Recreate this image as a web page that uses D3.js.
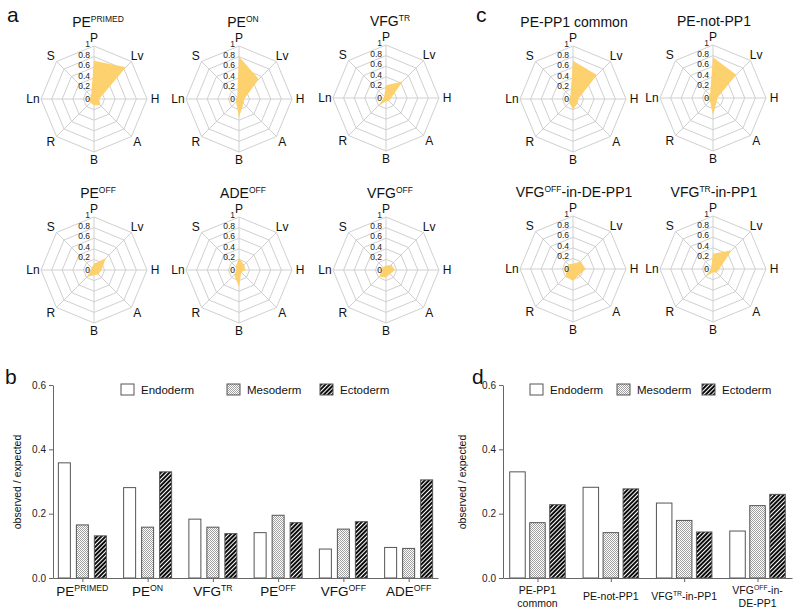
<!DOCTYPE html>
<html><head><meta charset="utf-8">
<script src="https://cdn.jsdelivr.net/npm/d3@7"></script>
<style>body{margin:0;background:#fff}svg{display:block;font-family:"Liberation Sans",Arial,sans-serif}</style>
</head><body><svg id="c" width="800" height="614"></svg>
<script>
// ---------- DATA ----------
const radarAxes = ["P","Lv","H","A","B","R","Ln","S"];
const radarTicks = [0, 0.2, 0.4, 0.6, 0.8, 1];
// panel a radar values (order P, Lv, H, A, B, R, Ln, S)
const pePrimed   = [0.72, 0.85, 0.10, 0.17, 0.12, 0.10, 0.09, 0.08];
const peOn       = [0.80, 0.53, 0.10, 0.12, 0.35, 0.08, 0.06, 0.05];
const vfgTr      = [0.24, 0.44, 0.10, 0.08, 0.06, 0.22, 0.04, 0.05];
const peOff      = [0.12, 0.32, 0.14, 0.12, 0.10, 0.19, 0.06, 0.06];
const adeOff     = [0.22, 0.14, 0.12, 0.06, 0.32, 0.13, 0.05, 0.09];
const vfgOff     = [0.08, 0.14, 0.17, 0.11, 0.14, 0.18, 0.08, 0.08];
// panel c radar values
const pePp1Common   = [0.72, 0.64, 0.10, 0.12, 0.20, 0.10, 0.08, 0.07];
const peNotPp1      = [0.77, 0.62, 0.08, 0.10, 0.32, 0.08, 0.13, 0.08];
const vfgOffInDePp1 = [0.10, 0.20, 0.24, 0.16, 0.22, 0.20, 0.12, 0.12];
const vfgTrInPp1    = [0.29, 0.50, 0.12, 0.10, 0.06, 0.22, 0.04, 0.05];
// radar titles (^{..} = superscript)
const radarTitles = ["PE^{PRIMED}","PE^{ON}","VFG^{TR}","PE^{OFF}","ADE^{OFF}","VFG^{OFF}",
                     "PE-PP1 common","PE-not-PP1","VFG^{OFF}-in-DE-PP1","VFG^{TR}-in-PP1"];

// bar charts
const germLayers = ["Endoderm","Mesoderm","Ectoderm"];
const barTicks = [0.0, 0.2, 0.4, 0.6];
const categoriesB = ["PE^{PRIMED}","PE^{ON}","VFG^{TR}","PE^{OFF}","VFG^{OFF}","ADE^{OFF}"];
const endodermB = [0.358, 0.281, 0.183, 0.141, 0.090, 0.095];
const mesodermB = [0.165, 0.158, 0.158, 0.195, 0.152, 0.092];
const ectodermB = [0.131, 0.330, 0.138, 0.172, 0.175, 0.305];
const categoriesD = ["PE-PP1\ncommon","PE-not-PP1","VFG^{TR}-in-PP1","VFG^{OFF}-in-\nDE-PP1"];
const endodermD = [0.330, 0.282, 0.233, 0.146];
const mesodermD = [0.172, 0.141, 0.179, 0.225];
const ectodermD = [0.228, 0.277, 0.143, 0.260];
const yLabel = "observed / expected";

// ---------- DRAW ----------
const svg = d3.select("#c");
const defs = svg.append("defs");
const dots = defs.append("pattern").attr("id","dots").attr("patternUnits","userSpaceOnUse")
  .attr("width",2).attr("height",2);
dots.append("rect").attr("width",2).attr("height",2).attr("fill","#fff");
dots.append("rect").attr("width",1).attr("height",1).attr("fill","#a0a0a0");
dots.append("rect").attr("x",1).attr("y",1).attr("width",1).attr("height",1).attr("fill","#a0a0a0");
const hatch = defs.append("pattern").attr("id","hatch").attr("patternUnits","userSpaceOnUse")
  .attr("width",3).attr("height",3).attr("patternTransform","rotate(45)");
hatch.append("rect").attr("width",3).attr("height",3).attr("fill","#fff");
hatch.append("line").attr("x1",1).attr("x2",1).attr("y1",0).attr("y2",3)
  .attr("stroke","#000").attr("stroke-width",1.9);
const fills = ["#fff","url(#dots)","url(#hatch)"];

// rich text writer: supports ^{sup}
function richText(sel, str, size, supSize){
  const parts = str.split(/(\^\{[^}]*\})/).filter(s=>s.length);
  let inSup = false;
  parts.forEach(p=>{
    if (p.startsWith("^{")) {
      sel.append("tspan").attr("font-size",supSize).attr("dy",-size*0.38).text(p.slice(2,-1));
      inSup = true;
    } else {
      const t = sel.append("tspan").attr("font-size",size).text(p);
      if (inSup) { t.attr("dy",size*0.38); inSup=false; }
    }
  });
}

// panel letters
[["a",7,22],["b",5,384],["c",476,22],["d",472,384]].forEach(([t,x,y])=>
  svg.append("text").attr("x",x).attr("y",y).attr("font-size",21).attr("fill","#111").text(t));

// radars
const R = 53;
const rScale = d3.scaleLinear().domain([0,1]).range([0,R]);
const angle = d3.scalePoint().domain(radarAxes).range([0, 2*Math.PI*7/8]);
const radarData = [pePrimed, peOn, vfgTr, peOff, adeOff, vfgOff, pePp1Common, peNotPp1, vfgOffInDePp1, vfgTrInPp1];
const radarCx = [94, 239, 386, 94, 239, 386, 573, 713, 573, 713];
const radarCy = [99, 99, 98, 270, 270, 270, 99, 98, 269, 269];
const pt = (a, r) => [r*Math.sin(a), -r*Math.cos(a)];

radarData.forEach((vals, i)=>{
  const g = svg.append("g").attr("transform",`translate(${radarCx[i]},${radarCy[i]})`);
  // rings
  radarTicks.filter(t=>t>0).forEach(t=>{
    g.append("path").attr("d", d3.lineRadial().angle(d=>angle(d)).radius(rScale(t)).curve(d3.curveLinearClosed)(radarAxes))
      .attr("fill","none").attr("stroke","#d0d0d0").attr("stroke-width",1);
  });
  radarAxes.forEach(a=>{
    const [x,y] = pt(angle(a), R);
    g.append("line").attr("x1",0).attr("y1",0).attr("x2",x).attr("y2",y).attr("stroke","#d0d0d0").attr("stroke-width",1);
  });
  // shape
  g.append("path").attr("d", d3.lineRadial().angle((d,j)=>angle(radarAxes[j])).radius(d=>rScale(d)).curve(d3.curveLinearClosed)(vals))
    .attr("fill","#fdd066").attr("fill-opacity",0.95);
  // tick labels
  radarTicks.forEach(t=>{
    g.append("text").attr("x",-4).attr("y",-rScale(t)+ (t===0?3:1)).attr("text-anchor","end")
      .attr("font-size",8.5).attr("fill","#222").text(t===0||t===1?String(t):t.toFixed(1));
  });
  // axis labels
  radarAxes.forEach(a=>{
    const [x,y] = pt(angle(a), R+8);
    g.append("text").attr("x",x).attr("y",y).attr("text-anchor","middle").attr("dy","0.36em")
      .attr("font-size",12).attr("fill","#111").text(a);
  });
  // title
  const tt = g.append("text").attr("x",(i<6?4:1)).attr("y",-R-19).attr("text-anchor","middle").attr("fill","#111");
  richText(tt, radarTitles[i], 14, 8.5);
});

// bar charts
function barChart(cats, series, x0, x1, pad, barW, barOff, legendX, legendGap, labelSize, yLabX){
  const y = d3.scaleLinear().domain([0,0.6]).range([578,385]);
  const x = d3.scalePoint().domain(cats).range([x0, x1]).padding(pad);
  const inner = d3.scalePoint().domain(germLayers).range([-barOff, barOff]);
  const g = svg.append("g");
  germLayers.forEach((gl, k)=>{
    g.selectAll(null).data(series[k]).enter().append("rect")
      .attr("x",(d,j)=>x(cats[j])+inner(gl)-barW/2).attr("width",barW)
      .attr("y",d=>y(d)).attr("height",d=>y(0)-y(d))
      .attr("fill",fills[k]).attr("stroke","#555").attr("stroke-width",1);
  });
  const yAxis = g.append("g").attr("transform",`translate(${x0},0)`)
    .call(d3.axisLeft(y).tickValues(barTicks).tickFormat(d3.format(".1f")).tickSize(4).tickSizeOuter(0));
  const xAxis = g.append("g").attr("transform",`translate(0,${y(0)})`)
    .call(d3.axisBottom(x).tickSize(4).tickSizeOuter(0).tickFormat(""));
  [yAxis,xAxis].forEach(a=>{a.select(".domain").attr("stroke","#666");a.selectAll(".tick line").attr("stroke","#666");});
  yAxis.selectAll(".tick text").attr("font-size",10).attr("fill","#222").attr("font-family","Liberation Sans, Arial, sans-serif");
  // x labels
  cats.forEach(c=>{
    const lines = c.split("\n");
    lines.forEach((ln, li)=>{
      const yy = lines.length===1 ? (labelSize>12?596:600) : 594 + li*13;
      const t = g.append("text").attr("x",x(c)).attr("y",yy).attr("text-anchor","middle").attr("fill","#111");
      richText(t, ln, labelSize, labelSize*0.65);
    });
  });
  // y label
  g.append("text").attr("transform",`translate(${yLabX},482) rotate(-90)`).attr("text-anchor","middle")
    .attr("font-size",10.5).attr("fill","#111").text(yLabel);
  // legend
  germLayers.forEach((gl,k)=>{
    g.append("rect").attr("x",legendX[k]).attr("y",384).attr("width",13).attr("height",11)
      .attr("fill",fills[k]).attr("stroke","#555");
    g.append("text").attr("x",legendX[k]+legendGap).attr("y",393.5).attr("font-size",11.5).attr("fill","#111").text(gl);
  });
}
barChart(categoriesB, [endodermB, mesodermB, ectodermB], 53, 438, 0.45, 12, 18, [121, 227, 320], 20, 13.5, 21);
barChart(categoriesD, [endodermD, mesodermD, ectodermD], 503, 792, 0.47, 15.5, 20, [530, 617, 702], 20, 10.5, 466);
</script></body></html>
